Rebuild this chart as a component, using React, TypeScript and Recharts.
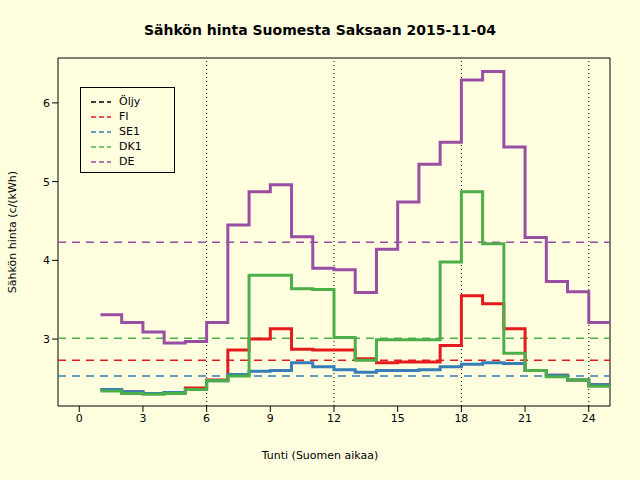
import { LineChart, Line, XAxis, YAxis, ReferenceLine, ReferenceArea } from "recharts";

const hours = [1, 2, 3, 4, 5, 6, 7, 8, 9, 10, 11, 12, 13, 14, 15, 16, 17, 18, 19, 20, 21, 22, 23, 24, 25];
const de = [3.31, 3.21, 3.09, 2.95, 2.97, 3.21, 4.45, 4.87, 4.96, 4.3, 3.9, 3.88, 3.59, 4.14, 4.74, 5.22, 5.5, 6.29, 6.4, 5.44, 4.29, 3.73, 3.6, 3.21, 3.21];
const fi = [2.36, 2.33, 2.31, 2.32, 2.38, 2.48, 2.86, 3.0, 3.13, 2.87, 2.86, 2.86, 2.75, 2.7, 2.71, 2.71, 2.92, 3.55, 3.45, 3.13, 2.6, 2.54, 2.48, 2.42, 2.42];
const se1 = [2.36, 2.33, 2.31, 2.32, 2.36, 2.47, 2.55, 2.59, 2.6, 2.7, 2.65, 2.61, 2.58, 2.6, 2.6, 2.61, 2.65, 2.68, 2.7, 2.69, 2.6, 2.54, 2.48, 2.42, 2.42];
const dk1 = [2.34, 2.31, 2.3, 2.31, 2.36, 2.47, 2.53, 3.81, 3.81, 3.64, 3.63, 3.02, 2.73, 2.99, 2.99, 2.99, 3.98, 4.87, 4.21, 2.82, 2.6, 2.52, 2.48, 2.4, 2.4];
const means = { de: 4.23, dk1: 3.01, fi: 2.73, se1: 2.53 };
const xTicks = [0, 3, 6, 9, 12, 15, 18, 21, 24];
const yTicks = [3, 4, 5, 6];
const vLines = [6, 12, 18, 24];

const legendItems = [
  { name: "Öljy", color: "#000000" },
  { name: "FI", color: "#E41A1C" },
  { name: "SE1", color: "#377EB8" },
  { name: "DK1", color: "#4DAF4A" },
  { name: "DE", color: "#984EA3" },
];

const font = "'DejaVu Sans', sans-serif";

export default function App() {
  const data = hours.map((h, i) => ({ h, de: de[i], fi: fi[i], se1: se1[i], dk1: dk1[i] }));
  const tick = { fill: "#000", fontSize: 11, fontFamily: font };
  return (
    <div style={{ position: "fixed", left: 0, top: 0, width: 640, height: 480, background: "#FFFFE0", fontFamily: font }}>
      <div style={{ position: "absolute", top: 22, width: 640, textAlign: "center", fontWeight: "bold", fontSize: 14 }}>
        Sähkön hinta Suomesta Saksaan 2015-11-04
      </div>
      <LineChart width={640} height={480} data={data} margin={{ top: 58, right: 30, bottom: 34, left: 18 }}>
        <XAxis dataKey="h" type="number" domain={[-1, 25]} ticks={xTicks} height={40} tick={tick}
          axisLine={false} tickLine={{ stroke: "#000" }} tickSize={6} allowDataOverflow />
        <YAxis type="number" domain={[2.15, 6.57]} ticks={yTicks} width={40} tick={tick}
          axisLine={false} tickLine={{ stroke: "#000" }} tickSize={6} allowDataOverflow />
        <ReferenceArea x1={-1} x2={25} y1={2.15} y2={6.57} fill="none" stroke="#000" strokeWidth={1} />
        {vLines.map((v) => (
          <ReferenceLine key={v} x={v} stroke="#000" strokeDasharray="1 3" strokeWidth={1} />
        ))}
        <ReferenceLine y={means.de} stroke="#984EA3" strokeDasharray="8 6" strokeWidth={1.5} />
        <ReferenceLine y={means.dk1} stroke="#4DAF4A" strokeDasharray="8 6" strokeWidth={1.5} />
        <ReferenceLine y={means.fi} stroke="#E41A1C" strokeDasharray="8 6" strokeWidth={1.5} />
        <ReferenceLine y={means.se1} stroke="#377EB8" strokeDasharray="8 6" strokeWidth={1.5} />
        <Line type="stepAfter" dataKey="de" stroke="#984EA3" strokeWidth={3} dot={false} isAnimationActive={false} />
        <Line type="stepAfter" dataKey="fi" stroke="#E41A1C" strokeWidth={3} dot={false} isAnimationActive={false} />
        <Line type="stepAfter" dataKey="se1" stroke="#377EB8" strokeWidth={3} dot={false} isAnimationActive={false} />
        <Line type="stepAfter" dataKey="dk1" stroke="#4DAF4A" strokeWidth={3} dot={false} isAnimationActive={false} />
      </LineChart>
      <div style={{ position: "absolute", top: 449, width: 640, textAlign: "center", fontSize: 11 }}>Tunti (Suomen aikaa)</div>
      <div style={{ position: "absolute", left: 12, top: 232, transform: "translate(-50%,-50%) rotate(-90deg)", transformOrigin: "center", fontSize: 11, whiteSpace: "nowrap", marginLeft: 0 }}>
        <span style={{ position: "relative", left: 0 }}>Sähkön hinta (c/(kWh)</span>
      </div>
      <div style={{ position: "absolute", left: 80, top: 87, width: 95, height: 86, border: "1px solid #000", fontSize: 11, paddingTop: 6, boxSizing: "border-box" }}>
        {legendItems.map((it) => (
          <div key={it.name} style={{ display: "flex", alignItems: "center", height: 15 }}>
            <svg width={38} height={10}>
              <line x1={10} x2={30} y1={5} y2={5} stroke={it.color} strokeWidth={1.5} strokeDasharray="5 3" />
            </svg>
            <span>{it.name}</span>
          </div>
        ))}
      </div>
    </div>
  );
}
